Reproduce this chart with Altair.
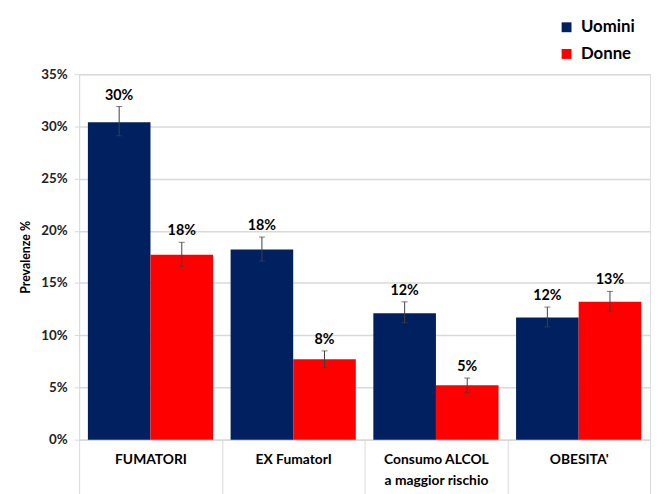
import altair as alt
import pandas as pd

categories = ["FUMATORI", "EX FumatorI", "Consumo ALCOL a maggior rischio", "OBESITA'"]
series = ["Uomini", "Donne"]
uomini = [30.4, 18.2, 12.1, 11.7]
donne = [17.7, 7.7, 5.2, 13.2]
uomini_lo = [29.1, 17.1, 11.2, 10.8]
uomini_hi = [31.9, 19.4, 13.2, 12.7]
donne_lo = [16.6, 6.9, 4.5, 12.3]
donne_hi = [18.9, 8.5, 5.9, 14.2]
labels_u = ["30%", "18%", "12%", "12%"]
labels_d = ["18%", "8%", "5%", "13%"]

rows = []
for i, c in enumerate(categories):
    rows.append(dict(cat=c, sesso="Uomini", val=uomini[i], lo=uomini_lo[i], hi=uomini_hi[i], lab=labels_u[i]))
    rows.append(dict(cat=c, sesso="Donne", val=donne[i], lo=donne_lo[i], hi=donne_hi[i], lab=labels_d[i]))
df = pd.DataFrame(rows)

FONT = "Lato"
x = alt.X("cat:N", sort=categories, title=None,
          scale=alt.Scale(paddingInner=0, paddingOuter=0),
          axis=alt.Axis(labelFontWeight="bold", labelFontSize=14, labelColor="#000000",
                        labelFont=FONT, labelAngle=0, labelPadding=-42, labelLineHeight=21,
                        labelBaseline="top",
                        labelExpr="datum.value == 'Consumo ALCOL a maggior rischio' ? ['Consumo ALCOL', 'a maggior rischio'] : datum.label",
                        tickBand="extent", tickSize=55, tickColor="#d9d9d9",
                        domainColor="#d9d9d9", grid=False))
xo = alt.XOffset("sesso:N", sort=series, scale=alt.Scale(paddingOuter=0.14, paddingInner=0))
y_scale = alt.Scale(domain=[0, 35])

bars = alt.Chart(df).mark_bar(stroke=None).encode(
    x=x, xOffset=xo,
    y=alt.Y("val:Q", scale=y_scale, title="Prevalenze %",
            axis=alt.Axis(values=[0, 5, 10, 15, 20, 25, 30, 35], labelExpr="datum.value + '%'",
                          labelFont=FONT, labelFontSize=13.5, labelColor="#222222", labelFontWeight="bold",
                          titleFont=FONT, titleFontSize=12.5, titleFontWeight="bold", titleColor="#000000",
                          titlePadding=9, tickSize=5, tickColor="#d9d9d9", domainColor="#d9d9d9",
                          gridColor="#d9d9d9", gridWidth=1.5, labelPadding=7)),
    color=alt.Color("sesso:N", sort=series,
                    scale=alt.Scale(domain=series, range=["#002060", "#ff0000"]),
                    legend=alt.Legend(title=None, orient="none", legendX=485, legendY=-56,
                                      symbolType="square", symbolSize=100, symbolStrokeWidth=0,
                                      labelFont=FONT, labelFontSize=17, labelFontWeight="bold",
                                      labelColor="#000000", rowPadding=9, labelOffset=6)),
)

err = alt.Chart(df).mark_rule(color="#404040", strokeWidth=1).encode(
    x=x, xOffset=xo, y=alt.Y("lo:Q", scale=y_scale), y2="hi:Q")
cap_lo = alt.Chart(df).mark_tick(color="#404040", thickness=1, size=6).encode(
    x=x, xOffset=xo, y=alt.Y("lo:Q", scale=y_scale))
cap_hi = alt.Chart(df).mark_tick(color="#404040", thickness=1, size=6).encode(
    x=x, xOffset=xo, y=alt.Y("hi:Q", scale=y_scale))
text = alt.Chart(df).mark_text(font=FONT, fontSize=14.5, fontWeight="bold", color="#000000",
                               baseline="bottom", dy=-4).encode(
    x=x, xOffset=xo, y=alt.Y("hi:Q", scale=y_scale), text="lab:N")

chart = alt.layer(bars, err, cap_lo, cap_hi, text).properties(
    width=578, height=370,
    autosize=alt.AutoSizeParams(type="none"),
    padding={"left": 72, "top": 64, "right": 3, "bottom": 52},
).configure_view(stroke=None).configure(background="white")

chart.save("out.html", embed_options={"renderer": "svg", "actions": False})
